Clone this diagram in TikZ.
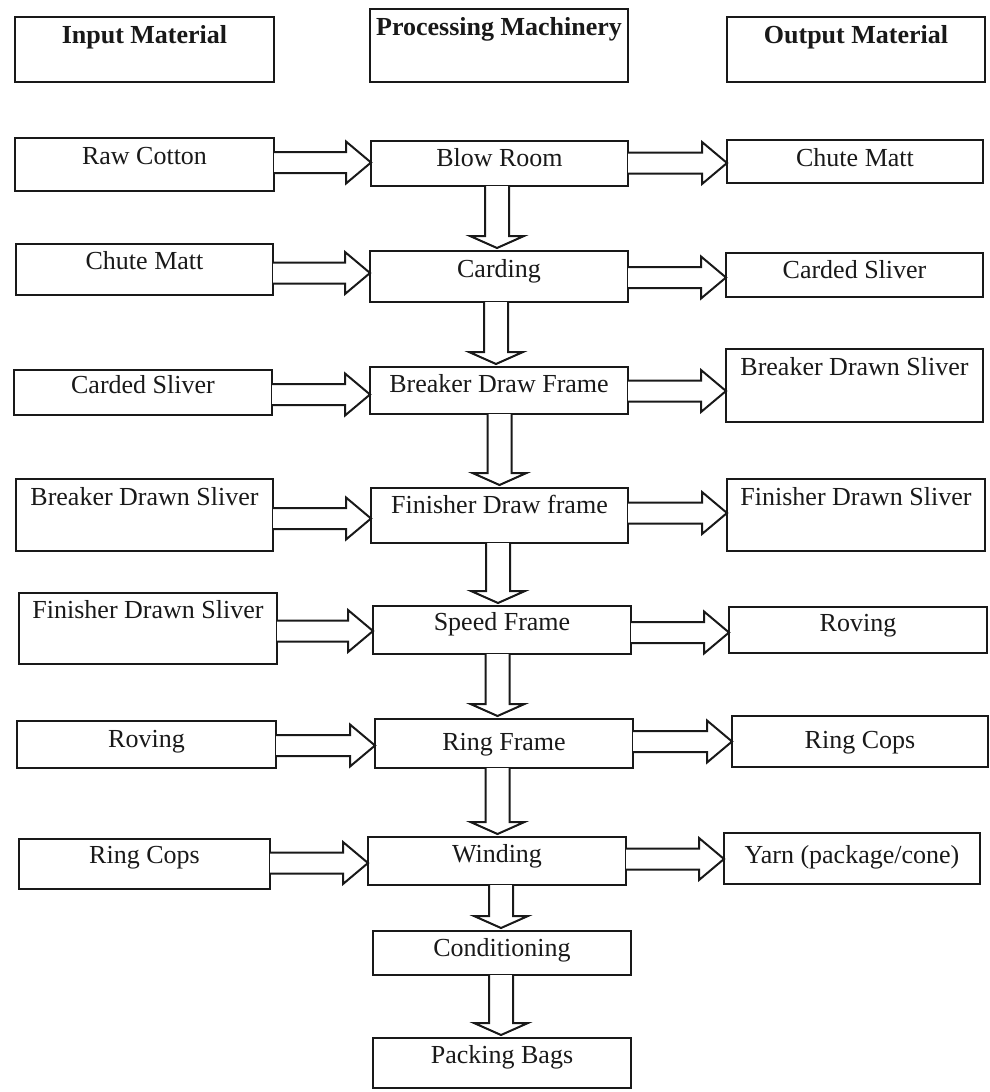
\documentclass[tikz,border=0pt]{standalone}
\usepackage{fontspec}
\setmainfont{Liberation Serif}
\usetikzlibrary{calc}

% box with its label set near the top: name, x1, y1, x2, y2, baseline y, text, label style
\newcommand\procbox[8]{%
  \pgfmathsetmacro\bw{#4-#2}%
  \pgfmathsetmacro\bh{#5-#3}%
  \node[stage, minimum width=\bw pt, minimum height=\bh pt] (#1) at ({(#2+#4)/2},{(#3+#5)/2}) {};
  \node[#8] (#1-t) at ({(#2+#4)/2},#6) {#7};
}

% hollow block arrow pointing right, from node #1 to node #2 at height #3
\newcommand\harr[3]{%
  \coordinate (#1-#2-s) at (#1.east |- 0,#3);
  \coordinate (#1-#2-e) at (#2.west |- 0,#3);
  \draw[flow] ($(#1-#2-s)+(0,-10.5)$) -- ($(#1-#2-e)+(-25,-10.5)$) -- ($(#1-#2-e)+(-25,-21)$)
    -- (#1-#2-e) -- ($(#1-#2-e)+(-25,21)$) -- ($(#1-#2-e)+(-25,10.5)$) -- ($(#1-#2-s)+(0,10.5)$);
}

% hollow block arrow pointing down, from node #1 to node #2 at x #3
\newcommand\varr[3]{%
  \coordinate (#1-#2-s) at (#3,0 |- #1.south);
  \coordinate (#1-#2-e) at (#3,0 |- #2.north);
  \draw[flow] ($(#1-#2-s)+(-12,0)$) -- ($(#1-#2-e)+(-12,-15)$) -- ($(#1-#2-e)+(-27,-15)$)
    -- ($(#1-#2-e)+(0,-3)$) -- ($(#1-#2-e)+(27,-15)$) -- ($(#1-#2-e)+(12,-15)$) -- ($(#1-#2-s)+(12,0)$);
}

\tikzset{
  stage/.style={draw=black!90, line width=2pt, rectangle, inner sep=0pt, outer sep=0pt, fill=white},
  lbl/.style={anchor=base, inner sep=0pt, text=black!90, font=\fontsize{26}{30}\selectfont},
  head/.style={lbl, font=\bfseries\fontsize{26}{30}\selectfont},
  flow/.style={draw=black!90, line width=2pt, line join=miter, fill=white}
}

\begin{document}
\begin{tikzpicture}[x=1pt, y=-1pt]
\useasboundingbox (0,0) rectangle (989,1092);

% column headings
\procbox{hin}{15}{17}{274}{82}{43}{Input Material}{head}
\procbox{hproc}{370}{9}{628}{82}{35}{Processing Machinery}{head}
\procbox{hout}{727}{17}{985}{82}{43}{Output Material}{head}

% input materials
\procbox{in1}{15}{138}{274}{191}{164}{Raw Cotton}{lbl}
\procbox{in2}{16}{244}{273}{295}{269}{Chute Matt}{lbl}
\procbox{in3}{14}{370}{272}{415}{393}{Carded Sliver}{lbl}
\procbox{in4}{16}{479}{273}{551}{505}{Breaker Drawn Sliver}{lbl}
\procbox{in5}{19}{593}{277}{664}{618}{Finisher Drawn Sliver}{lbl}
\procbox{in6}{17}{721}{276}{768}{747}{Roving}{lbl}
\procbox{in7}{19}{839}{270}{889}{863}{Ring Cops}{lbl}

% machinery
\procbox{m1}{371}{141}{628}{186}{166}{Blow Room}{lbl}
\procbox{m2}{370}{251}{628}{302}{277}{Carding}{lbl}
\procbox{m3}{370}{367}{628}{414}{392}{Breaker Draw Frame}{lbl}
\procbox{m4}{371}{488}{628}{543}{513}{Finisher Draw frame}{lbl}
\procbox{m5}{373}{606}{631}{654}{630}{Speed Frame}{lbl}
\procbox{m6}{375}{719}{633}{768}{750}{Ring Frame}{lbl}
\procbox{m7}{368}{837}{626}{885}{862}{Winding}{lbl}
\procbox{m8}{373}{931}{631}{975}{956}{Conditioning}{lbl}
\procbox{m9}{373}{1038}{631}{1088}{1063}{Packing Bags}{lbl}

% output materials
\procbox{o1}{727}{140}{983}{183}{166}{Chute Matt}{lbl}
\procbox{o2}{726}{253}{983}{297}{278}{Carded Sliver}{lbl}
\procbox{o3}{726}{349}{983}{422}{375}{Breaker Drawn Sliver}{lbl}
\procbox{o4}{727}{479}{985}{551}{505}{Finisher Drawn Sliver}{lbl}
\procbox{o5}{729}{607}{987}{653}{631}{Roving}{lbl}
\procbox{o6}{732}{716}{988}{767}{748}{Ring Cops}{lbl}
\procbox{o7}{724}{833}{980}{884}{863}{Yarn (package/cone)}{lbl}

% material in -> machine -> material out
\harr{in1}{m1}{162.5}  \harr{m1}{o1}{163}
\harr{in2}{m2}{273}    \harr{m2}{o2}{277.5}
\harr{in3}{m3}{394.5}  \harr{m3}{o3}{391}
\harr{in4}{m4}{518.5}  \harr{m4}{o4}{513}
\harr{in5}{m5}{631}    \harr{m5}{o5}{632.5}
\harr{in6}{m6}{745.5}  \harr{m6}{o6}{741.5}
\harr{in7}{m7}{863}    \harr{m7}{o7}{859}

% machine sequence
\varr{m1}{m2}{497}
\varr{m2}{m3}{496}
\varr{m3}{m4}{499.5}
\varr{m4}{m5}{498}
\varr{m5}{m6}{497.5}
\varr{m6}{m7}{497.5}
\varr{m7}{m8}{501}
\varr{m8}{m9}{501}
\end{tikzpicture}
\end{document}
